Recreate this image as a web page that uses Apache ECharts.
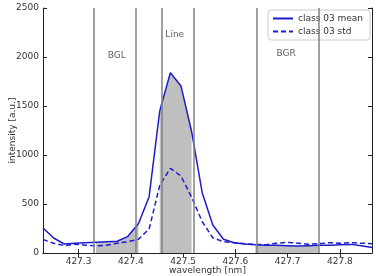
<!DOCTYPE html>
<html>
<head>
<meta charset="utf-8">
<script src="https://cdn.jsdelivr.net/npm/echarts@6/dist/echarts.min.js"></script>
<style>
  html, body { margin: 0; padding: 0; background: #fff; }
  #chart { width: 376px; height: 276px; }
</style>
</head>
<body>
<div id="chart"></div>
<script>
// wavelength samples (nm), evenly spaced
var x0 = 427.232;
var step = 0.0203;
// class 03 mean intensity
var meanVals = [255, 153, 92, 100, 105, 110, 115, 120, 170, 300, 575, 1450, 1840, 1705, 1240, 615,
  286, 140, 105, 92, 85, 80, 78, 75, 72, 75, 78, 80, 85, 88, 75, 55];
// class 03 std
var stdVals = [138, 100, 75, 90, 80, 72, 80, 100, 115, 140, 245, 690, 864, 785, 570, 320,
  155, 115, 105, 95, 88, 85, 100, 108, 100, 90, 95, 105, 100, 105, 100, 95];
// index ranges of the background / line windows
var bglRange = [5, 9];
var lineRange = [11, 14];
var bgrRange = [20, 26];
var xTicks = [427.3, 427.4, 427.5, 427.6, 427.7, 427.8];
var yTicks = [0, 500, 1000, 1500, 2000, 2500];
var regionLabels = [
  { name: 'BGL', x: 427.373, y: 2010 },
  { name: 'Line', x: 427.484, y: 2224 },
  { name: 'BGR', x: 427.697, y: 2030 }
];

var xs = meanVals.map(function (v, i) { return +(x0 + step * i).toFixed(4); });
var meanData = xs.map(function (x, i) { return [x, meanVals[i]]; });
var stdData = xs.map(function (x, i) { return [x, stdVals[i]]; });

function slice(r) {
  return meanData.slice(r[0], r[1] + 1);
}

var font = 'DejaVu Sans';
var xMin = xs[0];
var xMax = xs[xs.length - 1];

var fillSeries = [bglRange, lineRange, bgrRange].map(function (r) {
  return {
    type: 'line',
    data: slice(r),
    showSymbol: false,
    symbol: 'none',
    lineStyle: { width: 0 },
    areaStyle: { color: '#bfbfbf', opacity: 1 },
    z: 1,
    silent: true
  };
});

var bounds = [];
[bglRange, lineRange, bgrRange].forEach(function (r) {
  bounds.push({ xAxis: xs[r[0]] });
  bounds.push({ xAxis: xs[r[1]] });
});

var myChart = echarts.init(document.getElementById('chart'));
var option = {
  animation: false,
  grid: { left: 43, right: 4, top: 8, bottom: 23, containLabel: false, outerBoundsMode: 'none' },
  legend: {
    data: ['class 03 mean', 'class 03 std'],
    orient: 'vertical',
    left: 268,
    top: 10,
    itemWidth: 20,
    itemHeight: 10,
    itemGap: 4,
    padding: [4, 7, 4, 4],
    itemStyle: { opacity: 0 },
    backgroundColor: 'rgba(255,255,255,0.85)',
    borderColor: '#cccccc',
    borderWidth: 1,
    borderRadius: 3,
    textStyle: { fontFamily: font, fontSize: 9, color: '#333' }
  },
  xAxis: [{
    type: 'value',
    min: xMin,
    max: xMax,
    name: 'wavelength [nm]',
    nameLocation: 'middle',
    nameGap: 13,
    nameMoveOverlap: false,
    nameTextStyle: { fontFamily: font, fontSize: 9, color: '#333' },
    axisLine: { lineStyle: { color: '#222', width: 1 } },
    axisTick: { inside: true, length: 4, customValues: xTicks, lineStyle: { color: '#222' } },
    axisLabel: {
      customValues: xTicks,
      margin: 4,
      fontFamily: font, fontSize: 9, color: '#333',
      formatter: function (v) { return v.toFixed(1); }
    },
    splitLine: { show: false }
  }, {
    type: 'value',
    position: 'top',
    min: xMin,
    max: xMax,
    axisLine: { lineStyle: { color: '#222', width: 1 } },
    axisTick: { inside: true, length: 4, customValues: xTicks, lineStyle: { color: '#222' } },
    axisLabel: { show: false },
    splitLine: { show: false }
  }],
  yAxis: [{
    type: 'value',
    min: yTicks[0],
    max: yTicks[yTicks.length - 1],
    interval: 500,
    name: 'intensity [a.u.]',
    nameLocation: 'middle',
    nameGap: 26,
    nameMoveOverlap: false,
    nameTextStyle: { fontFamily: font, fontSize: 9, color: '#333' },
    axisLine: { show: true, lineStyle: { color: '#222', width: 1 } },
    axisTick: { show: true, inside: true, length: 4, lineStyle: { color: '#222' } },
    axisLabel: {
      margin: 4, fontFamily: font, fontSize: 9, color: '#333',
      formatter: function (v) { return String(v); }
    },
    splitLine: { show: false }
  }, {
    type: 'value',
    position: 'right',
    min: yTicks[0],
    max: yTicks[yTicks.length - 1],
    interval: 500,
    axisLine: { show: true, lineStyle: { color: '#222', width: 1 } },
    axisTick: { show: true, inside: true, length: 4, lineStyle: { color: '#222' } },
    axisLabel: { show: false },
    splitLine: { show: false }
  }],
  series: fillSeries.concat([{
    type: 'line',
    data: [],
    z: 2,
    markLine: {
      silent: true,
      symbol: ['none', 'none'],
      label: { show: false },
      lineStyle: { color: '#808080', type: 'solid', width: 1.5 },
      data: bounds
    }
  }, {
    name: 'class 03 mean',
    type: 'line',
    data: meanData,
    symbol: 'none',
    color: '#1c1ccf',
    lineStyle: { color: '#1c1ccf', width: 1.5 },
    z: 4
  }, {
    name: 'class 03 std',
    type: 'line',
    data: stdData,
    symbol: 'none',
    color: '#1c1ccf',
    lineStyle: { color: '#1c1ccf', width: 1.5, type: [5, 3] },
    z: 4
  }, {
    type: 'scatter',
    symbolSize: 0,
    silent: true,
    data: regionLabels.map(function (d) { return { name: d.name, value: [d.x, d.y] }; }),
    label: {
      show: true,
      position: 'inside',
      formatter: '{b}',
      fontFamily: font,
      fontSize: 9,
      color: '#333'
    },
    z: 5
  }])
};
myChart.setOption(option, true);
window.addEventListener('resize', function () {
  if (myChart) {
    myChart.resize();
  }
});
</script>
</body>
</html>
